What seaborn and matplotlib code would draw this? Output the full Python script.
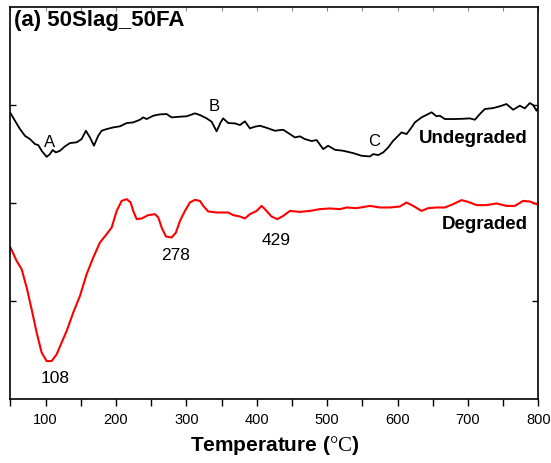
import matplotlib
matplotlib.use("Agg")
import matplotlib.pyplot as plt
import seaborn as sns
import pandas as pd
from matplotlib.ticker import MultipleLocator

# ---- data (temperature in °C, signal in arbitrary units) ----
undeg_T = [50, 56.4, 63.5, 70.6, 77.7, 84.8, 89.5, 94.3, 101.4, 106.1, 109.9, 114.6, 120.3, 127.4,
           134.5, 144.0, 151.1, 157.2, 162.9, 168.6, 174.7, 179.5, 186.7, 196.0, 205.5, 215.1,
           224.4, 234.0, 238.6, 243.5, 252.8, 262.4, 271.9, 279.0, 290.8, 300.3, 312.1, 319.2,
           328.7, 335.8, 342.9, 348.6, 352.3, 359.4, 368.9, 376.0, 383.1, 390.2, 397.3, 404.4,
           413.9, 425.7, 437.5, 447.0, 454.1, 461.2, 468.3, 477.9, 485.0, 494.3, 501.4, 511.0,
           522.7, 536.9, 548.9, 560.7, 565.4, 572.5, 579.6, 586.7, 593.8, 598.6, 605.7, 612.8,
           619.9, 624.6, 634.1, 643.5, 648.3, 655.4, 660.1, 667.2, 679.0, 693.2, 702.7, 709.8,
           716.9, 724.0, 735.8, 745.3, 754.8, 764.2, 773.7, 780.8, 787.9, 792.6, 797.4, 800]
undeg_y = [2.918, 2.840, 2.755, 2.686, 2.653, 2.602, 2.592, 2.534, 2.472, 2.500, 2.541, 2.517, 2.534, 2.579,
           2.612, 2.620, 2.653, 2.738, 2.670, 2.585, 2.687, 2.738, 2.755, 2.772, 2.783, 2.816,
           2.823, 2.850, 2.874, 2.857, 2.891, 2.905, 2.908, 2.874, 2.881, 2.885, 2.915, 2.898,
           2.864, 2.830, 2.732, 2.823, 2.864, 2.816, 2.813, 2.796, 2.834, 2.762, 2.779, 2.789,
           2.768, 2.738, 2.748, 2.704, 2.670, 2.681, 2.653, 2.633, 2.643, 2.551, 2.585, 2.544,
           2.534, 2.510, 2.483, 2.476, 2.500, 2.490, 2.517, 2.568, 2.636, 2.670, 2.721, 2.704,
           2.772, 2.823, 2.874, 2.908, 2.926, 2.885, 2.891, 2.857, 2.857, 2.860, 2.864, 2.850,
           2.908, 2.959, 2.969, 2.987, 3.010, 2.952, 2.993, 2.966, 3.020, 3.000, 2.942, 2.977]

deg_T = [50, 58.8, 65.9, 73.0, 80.1, 87.2, 94.3, 101.4, 108.5, 115.6, 122.7, 129.8, 139.2, 148.7,
         158.2, 167.6, 177.1, 186.7, 193.8, 200.9, 208.0, 215.1, 220.7, 224.4, 229.3, 236.4,
         245.7, 255.3, 260.0, 264.8, 270.9, 279.0, 285.1, 290.8, 297.9, 305.0, 312.1, 319.2,
         323.9, 331.0, 342.9, 359.4, 366.5, 376.0, 383.1, 390.2, 399.7, 406.8, 411.5, 421.0,
         429.0, 437.5, 447.0, 461.2, 475.4, 489.6, 503.8, 518.0, 527.6, 541.8, 560.7, 574.9,
         589.1, 603.3, 612.8, 622.2, 634.1, 643.5, 655.4, 667.2, 679.0, 690.9, 700.3, 712.2,
         726.4, 740.6, 754.8, 766.6, 778.4, 787.9, 797.4, 800]
deg_y = [1.548, 1.411, 1.327, 1.140, 0.918, 0.681, 0.477, 0.391, 0.391, 0.459, 0.579, 0.697, 0.885, 1.054,
         1.276, 1.446, 1.599, 1.684, 1.752, 1.921, 2.023, 2.041, 2.007, 1.921, 1.837, 1.844,
         1.878, 1.888, 1.854, 1.752, 1.660, 1.650, 1.701, 1.819, 1.921, 2.007, 2.034, 2.023,
         1.972, 1.915, 1.905, 1.905, 1.878, 1.864, 1.844, 1.888, 1.921, 1.972, 1.939, 1.864,
         1.837, 1.870, 1.921, 1.911, 1.921, 1.939, 1.946, 1.939, 1.956, 1.949, 1.972, 1.956,
         1.956, 1.966, 2.007, 1.972, 1.921, 1.949, 1.956, 1.956, 1.990, 2.031, 2.013, 1.980,
         1.980, 1.997, 1.972, 1.972, 2.023, 2.017, 1.990, 1.990]

x_ticks = [100, 200, 300, 400, 500, 600, 700, 800]
title = "(a) 50Slag_50FA"
series_labels = ["Undegraded", "Degraded"]
peak_labels_undeg = [("A", 106, 2.63), ("B", 340, 3.0), ("C", 566, 2.64)]
peak_labels_deg = [("108", 113, 0.22), ("278", 285, 1.48), ("429", 427, 1.63)]

# ---- style ----
sns.set_style("ticks")
plt.rcParams["font.family"] = ["Liberation Sans", "DejaVu Sans"]
plt.rcParams["mathtext.fontset"] = "custom"
plt.rcParams["mathtext.rm"] = "Liberation Serif"
for k in ["text.color", "axes.labelcolor", "xtick.color", "ytick.color", "axes.edgecolor"]:
    plt.rcParams[k] = "black"

fig = plt.figure(figsize=(5.51, 4.64), dpi=100)
ax = fig.add_axes([0.019, 0.137, 0.958, 0.846])

df_u = pd.DataFrame({"T": undeg_T, "v": undeg_y})
df_d = pd.DataFrame({"T": deg_T, "v": deg_y})
sns.lineplot(data=df_u, x="T", y="v", ax=ax, color="black", lw=1.3, estimator=None, sort=False)
sns.lineplot(data=df_d, x="T", y="v", ax=ax, color="#ff0000", lw=1.5, estimator=None, sort=False)

ax.set_xlim(50, 800)
ax.set_ylim(0, 4)
ax.set_xticks(x_ticks)
ax.xaxis.set_minor_locator(MultipleLocator(50))
ax.set_yticks([1, 2, 3])
ax.set_yticklabels([])
ax.tick_params(axis="x", which="both", direction="out", length=5, width=1, labelsize=10.5,
               top=False, pad=4, colors="black")
ax.tick_params(axis="y", which="both", direction="in", length=4, width=1, left=True, right=True)
for s in ax.spines.values():
    s.set_visible(True)
    s.set_linewidth(1.2)
    s.set_color("black")

# top inward ticks
sec = ax.secondary_xaxis("top")
sec.set_xticks([50 * i for i in range(1, 17)])
sec.set_xticklabels([])
sec.tick_params(direction="in", length=3, width=0.8, color="#888888")
sec.spines["top"].set_visible(False)

ax.set_xlabel(r"Temperature ($\mathrm{°C}$)", fontsize=15, fontweight="bold", labelpad=5,
              color="black")
ax.set_ylabel("")

ax.text(0.006, 0.968, title, transform=ax.transAxes, fontsize=16, fontweight="bold",
        ha="left", va="center", color="black")
ax.text(785, 2.67, series_labels[0], fontsize=13.5, fontweight="bold", ha="right", va="center",
        color="black")
ax.text(785, 1.79, series_labels[1], fontsize=13.5, fontweight="bold", ha="right", va="center",
        color="black")
for lab, tx, ty in peak_labels_undeg:
    ax.text(tx, ty, lab, fontsize=12, ha="center", va="center", color="black")
for lab, tx, ty in peak_labels_deg:
    ax.text(tx, ty, lab, fontsize=12.5, ha="center", va="center", color="black")

fig.savefig("out.png", dpi=100)
